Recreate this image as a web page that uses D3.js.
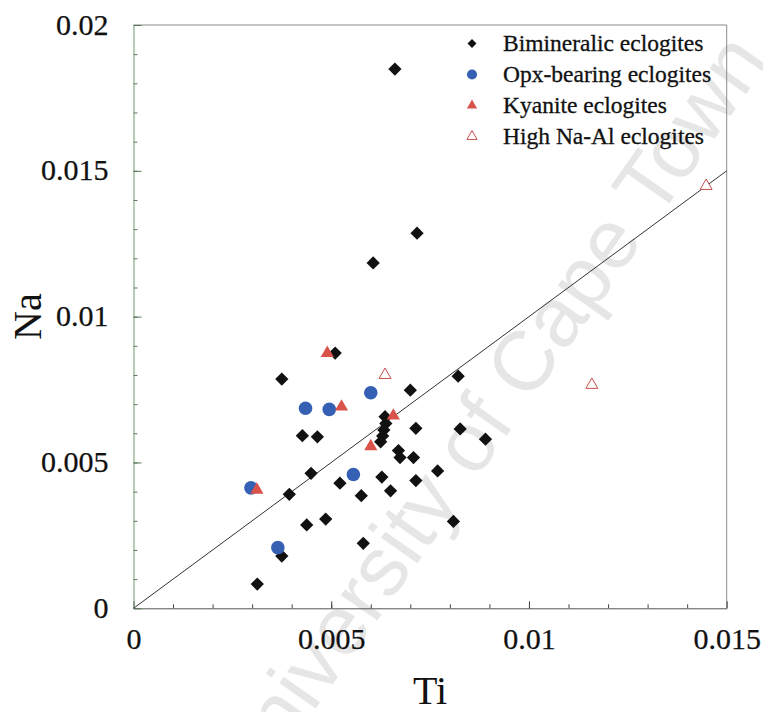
<!DOCTYPE html>
<html>
<head>
<meta charset="utf-8">
<script src="https://cdn.jsdelivr.net/npm/d3@7"></script>
<style>
  html, body { margin: 0; padding: 0; background: #fff; }
  svg { display: block; }
</style>
</head>
<body>
<svg id="chart" width="763" height="712"></svg>
<script>
// ---- Data (Ti, Na) ----
const bimineralic = [
  [0.00661, 0.01849], [0.00717, 0.01286], [0.00606, 0.01184], [0.00510, 0.00875],
  [0.00375, 0.00786], [0.00821, 0.00796], [0.00700, 0.00748], [0.00427, 0.00592],
  [0.00465, 0.00588], [0.00714, 0.00617], [0.00826, 0.00615], [0.00890, 0.00580],
  [0.00636, 0.00657], [0.00638, 0.00634], [0.00633, 0.00611], [0.00630, 0.00591],
  [0.00625, 0.00571], [0.00670, 0.00541], [0.00674, 0.00517], [0.00708, 0.00517],
  [0.00769, 0.00471], [0.00449, 0.00463], [0.00628, 0.00450], [0.00714, 0.00438],
  [0.00522, 0.00429], [0.00650, 0.00403], [0.00576, 0.00386], [0.00394, 0.00391],
  [0.00438, 0.00286], [0.00486, 0.00306], [0.00809, 0.00298], [0.00581, 0.00223],
  [0.00375, 0.00179], [0.00313, 0.00083]
];
const opxBearing = [
  [0.00297, 0.00413], [0.00365, 0.00208], [0.00435, 0.00686],
  [0.00495, 0.00682], [0.00600, 0.00739], [0.00556, 0.00459]
];
const kyanite = [
  [0.00312, 0.00406], [0.00490, 0.00875], [0.00526, 0.00691],
  [0.00657, 0.00660], [0.00600, 0.00555]
];
const highNaAl = [
  [0.00636, 0.00800], [0.01159, 0.00766], [0.01448, 0.01448]
];
const trendLine = [[0, 0], [0.015, 0.015]];

const xTicks = [0, 0.005, 0.01, 0.015];
const xTickLabels = ["0", "0.005", "0.01", "0.015"];
const yTicks = [0, 0.005, 0.01, 0.015, 0.02];
const yTickLabels = ["0", "0.005", "0.01", "0.015", "0.02"];
const xMinor = d3.range(1, 15).map(i => i * 0.001);
const yMinor = d3.range(1, 20).map(i => i * 0.001);

const legendItems = [
  {label: "Bimineralic eclogites", key: "bim"},
  {label: "Opx-bearing eclogites", key: "opx"},
  {label: "Kyanite eclogites", key: "ky"},
  {label: "High Na-Al eclogites", key: "hna"}
];

// ---- Layout ----
const svg = d3.select("#chart");
const L = 133.5, R = 726.7, T = 25, B = 608.3;
const x = d3.scaleLinear().domain([0, 0.015]).range([L, R]);
const y = d3.scaleLinear().domain([0, 0.02]).range([B, T]);
const serif = "'Liberation Serif', 'Times New Roman', serif";

const BLUE = "#3560b3", RED = "#d9534b", OPEN = "#c4504a";

// watermark
svg.append("text")
  .attr("transform", "translate(492,418) rotate(-55)")
  .attr("text-anchor", "middle")
  .attr("dominant-baseline", "middle")
  .attr("font-family", "'Liberation Sans', Arial, sans-serif")
  .attr("font-size", 84)
  .attr("fill", "#e6e6e6")
  .text("University of Cape Town");

// frame top/right
svg.append("line").attr("x1", L).attr("x2", R).attr("y1", T).attr("y2", T)
  .attr("stroke", "#8a8a8a").attr("stroke-width", 1);
svg.append("line").attr("x1", R).attr("x2", R).attr("y1", T).attr("y2", B)
  .attr("stroke", "#8a8a8a").attr("stroke-width", 1);

// minor ticks
const gxMinor = svg.append("g").attr("transform", `translate(0,${B})`)
  .call(d3.axisBottom(x).tickValues(xMinor).tickSize(-4).tickFormat(""));
gxMinor.select(".domain").remove();
gxMinor.selectAll("line").attr("stroke", "#444");
const gyMinor = svg.append("g").attr("transform", `translate(${L},0)`)
  .call(d3.axisLeft(y).tickValues(yMinor).tickSize(-4).tickFormat(""));
gyMinor.select(".domain").remove();
gyMinor.selectAll("line").attr("stroke", "#557755");

// major axes
const gx = svg.append("g").attr("transform", `translate(0,${B})`)
  .call(d3.axisBottom(x).tickValues(xTicks).tickSizeInner(-7).tickSizeOuter(0)
    .tickPadding(19).tickFormat((d, i) => xTickLabels[i]));
gx.select(".domain").attr("stroke", "#555");
gx.selectAll("line").attr("stroke", "#444");
gx.selectAll("text").attr("font-family", serif).attr("font-size", 30).attr("fill", "#111")
  .attr("stroke", "#111").attr("stroke-width", 0.25);

const gy = svg.append("g").attr("transform", `translate(${L},0)`)
  .call(d3.axisLeft(y).tickValues(yTicks).tickSizeInner(-8).tickSizeOuter(0)
    .tickPadding(25).tickFormat((d, i) => yTickLabels[i]));
gy.select(".domain").attr("stroke", "#6f9a6f");
gy.selectAll("line").attr("stroke", "#557755");
gy.selectAll("text").attr("font-family", serif).attr("font-size", 30).attr("fill", "#111")
  .attr("stroke", "#111").attr("stroke-width", 0.25).attr("dy", "0.3em");

// axis titles
svg.append("text").attr("x", x(0.0075)).attr("y", 704)
  .attr("text-anchor", "middle").attr("font-family", serif).attr("font-size", 40)
  .attr("fill", "#111").text("Ti");
svg.append("text").attr("transform", `translate(41,${y(0.01)}) rotate(-90)`)
  .attr("text-anchor", "middle").attr("font-family", serif).attr("font-size", 40)
  .attr("fill", "#111").text("Na");

// trend line
svg.append("path").datum(trendLine)
  .attr("d", d3.line().x(d => x(d[0])).y(d => y(d[1])))
  .attr("stroke", "#333").attr("stroke-width", 1).attr("fill", "none");

// markers
const diamond = d3.symbol(d3.symbolSquare, 88)();
const circle = d3.symbol(d3.symbolCircle, 145)();
const tri = d3.symbol(d3.symbolTriangle, 75)();
const triOpen = d3.symbol(d3.symbolTriangle, 62)();

svg.append("g").selectAll("path").data(bimineralic).join("path")
  .attr("d", diamond)
  .attr("transform", d => `translate(${x(d[0])},${y(d[1])}) rotate(45)`)
  .attr("fill", "#111");
svg.append("g").selectAll("path").data(opxBearing).join("path")
  .attr("d", circle)
  .attr("transform", d => `translate(${x(d[0])},${y(d[1])})`)
  .attr("fill", BLUE);
svg.append("g").selectAll("path").data(kyanite).join("path")
  .attr("d", tri)
  .attr("transform", d => `translate(${x(d[0])},${y(d[1])})`)
  .attr("fill", RED);
svg.append("g").selectAll("path").data(highNaAl).join("path")
  .attr("d", triOpen)
  .attr("transform", d => `translate(${x(d[0])},${y(d[1])})`)
  .attr("fill", "#fff").attr("stroke", OPEN).attr("stroke-width", 1);

// legend
const lg = svg.append("g");
const legendSym = {
  bim: g => g.append("path").attr("d", d3.symbol(d3.symbolSquare, 40)()).attr("transform", "rotate(45)").attr("fill", "#111"),
  opx: g => g.append("path").attr("d", d3.symbol(d3.symbolCircle, 80)()).attr("fill", BLUE),
  ky: g => g.append("path").attr("d", d3.symbol(d3.symbolTriangle, 45)()).attr("fill", RED),
  hna: g => g.append("path").attr("d", d3.symbol(d3.symbolTriangle, 45)()).attr("fill", "#fff").attr("stroke", OPEN).attr("stroke-width", 1)
};
legendItems.forEach((it, i) => {
  const yy = 43.5 + i * 31;
  const g = lg.append("g").attr("transform", `translate(472,${yy})`);
  legendSym[it.key](g);
  lg.append("text").attr("x", 503).attr("y", yy).attr("dy", "0.33em")
    .attr("font-family", serif).attr("font-size", 23.5).attr("fill", "#111")
    .attr("stroke", "#111").attr("stroke-width", 0.3)
    .text(it.label);
});
</script>
</body>
</html>
